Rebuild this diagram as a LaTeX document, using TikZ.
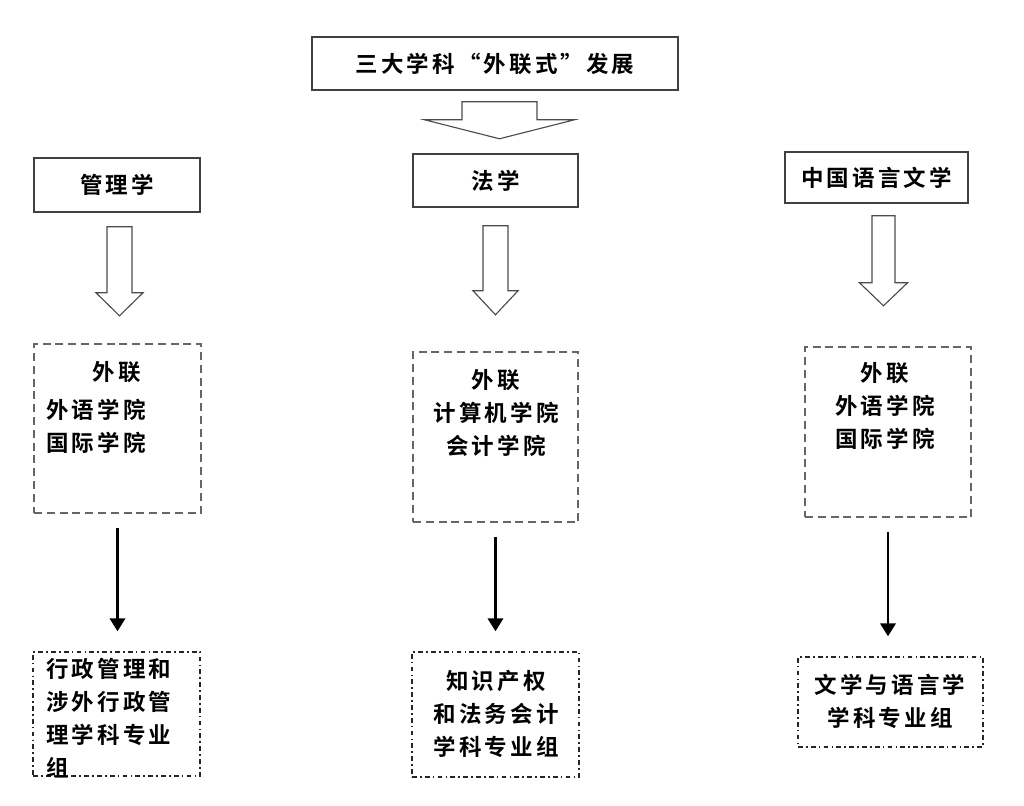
\documentclass[tikz,border=0pt]{standalone}
\usepackage{fontspec}
\usepackage{tikz}
\usetikzlibrary{positioning,arrows.meta,calc}
\newfontfamily\cjk{Noto Sans CJK SC Bold}[LetterSpace=14]

\begin{document}
\begin{tikzpicture}[x=0.025cm, y=-0.025cm,
  every node/.style={font={\cjk\fontsize{16pt}{23.5pt}\selectfont}},
  catbox/.style ={draw=black!75, line width=1.1pt, align=center, inner sep=0pt},
  linkbox/.style={draw=black!60, line width=1.1pt, dash pattern=on 0.2cm off 0.12cm},
  grpbox/.style ={draw=black!85, line width=1pt,
                  dash pattern=on 0.12cm off 0.08cm on 0.04cm off 0.08cm},
  txt/.style    ={align=center, inner sep=0pt},
  arr/.style    ={-{Triangle[length=0.32cm,width=0.38cm]}, line width=1.7pt,
                  shorten <=0.35cm, shorten >=0.5cm},
  pics/hollow/.style n args={4}{code={
    \draw[draw=black!70, line width=0.8pt, fill=white]
      (-#1,0) -- (#1,0) -- (#1,#3) -- (#2,#3) -- (0,{#3+#4})
      -- (-#2,#3) -- (-#1,#3) -- cycle;}}]

\useasboundingbox (0,0) rectangle (1024,806);

%% ── Row 1: title ─────────────────────────────────────────────────
\node[catbox, minimum width=9.15cm, minimum height=1.325cm] (title) at (495,63.5) {三大学科“外联式”发展};

%% ── Row 2: three disciplines ─────────────────────────────────────
\node[catbox, minimum width=4.15cm,  minimum height=1.35cm]  (catA) at (117,185)     {管理学};
\node[catbox, minimum width=4.125cm, minimum height=1.325cm] (catB) at (495.5,180.5) {法学};
\node[catbox, minimum width=4.575cm, minimum height=1.275cm] (catC) at (876.5,177.5) {中国语言文学};

%% ── Row 3: linked colleges ───────────────────────────────────────
\node[linkbox, minimum width=4.175cm, minimum height=4.225cm] (lkA) at (117.5,428.5) {};
\node[linkbox, minimum width=4.125cm, minimum height=4.25cm]  (lkB) at (495.5,437)   {};
\node[linkbox, minimum width=4.15cm,  minimum height=4.25cm]  (lkC) at (888,432)     {};

\node[txt] (hdA) at (117,372) {外联};
\node[txt, align=left, anchor=west] (colA) at (46,426.5) {外语学院\\国际学院};
\node[txt] (colB) at (496,412.5) {外联\\计算机学院\\会计学院};
\node[txt] (colC) at (885,406)   {外联\\外语学院\\国际学院};

%% ── Row 4: subject groups ────────────────────────────────────────
\node[grpbox, minimum width=4.175cm, minimum height=3.1cm]   (grA) at (116.5,714) {};
\node[grpbox, minimum width=4.175cm, minimum height=3.125cm] (grB) at (495.5,714.5) {};
\node[grpbox, minimum width=4.625cm, minimum height=2.25cm]  (grC) at (890.5,702) {};

\node[txt, align=left, anchor=west] (spA) at (46,718.5) {行政管理和\\涉外行政管\\理学科专业\\组};
\node[txt] (spB) at (496,714) {知识产权\\和法务会计\\学科专业组};
\node[txt] (spC) at (890,701) {文学与语言学\\学科专业组};

%% ── Hollow arrows ────────────────────────────────────────────────
\pic at ($(title.south)+(4.5,11)$) {hollow={37.5}{75}{18}{19}};
\pic at ($(catA.south)+(2.5,14)$)  {hollow={12.5}{23.5}{66}{23}};
\pic at ($(catB.south)+(0,18)$)    {hollow={12.5}{22.5}{65}{24}};
\pic at ($(catC.south)+(7,12)$)    {hollow={11.5}{24}{67}{23}};

%% ── Arrows: colleges → groups ────────────────────────────────────
\draw[arr] (lkA.south) -- (lkA.south |- grA.north);
\draw[arr] (lkB.south) -- (lkB.south |- grB.north);
\draw[arr] (lkC.south) -- (lkC.south |- grC.north);
\end{tikzpicture}
\end{document}
